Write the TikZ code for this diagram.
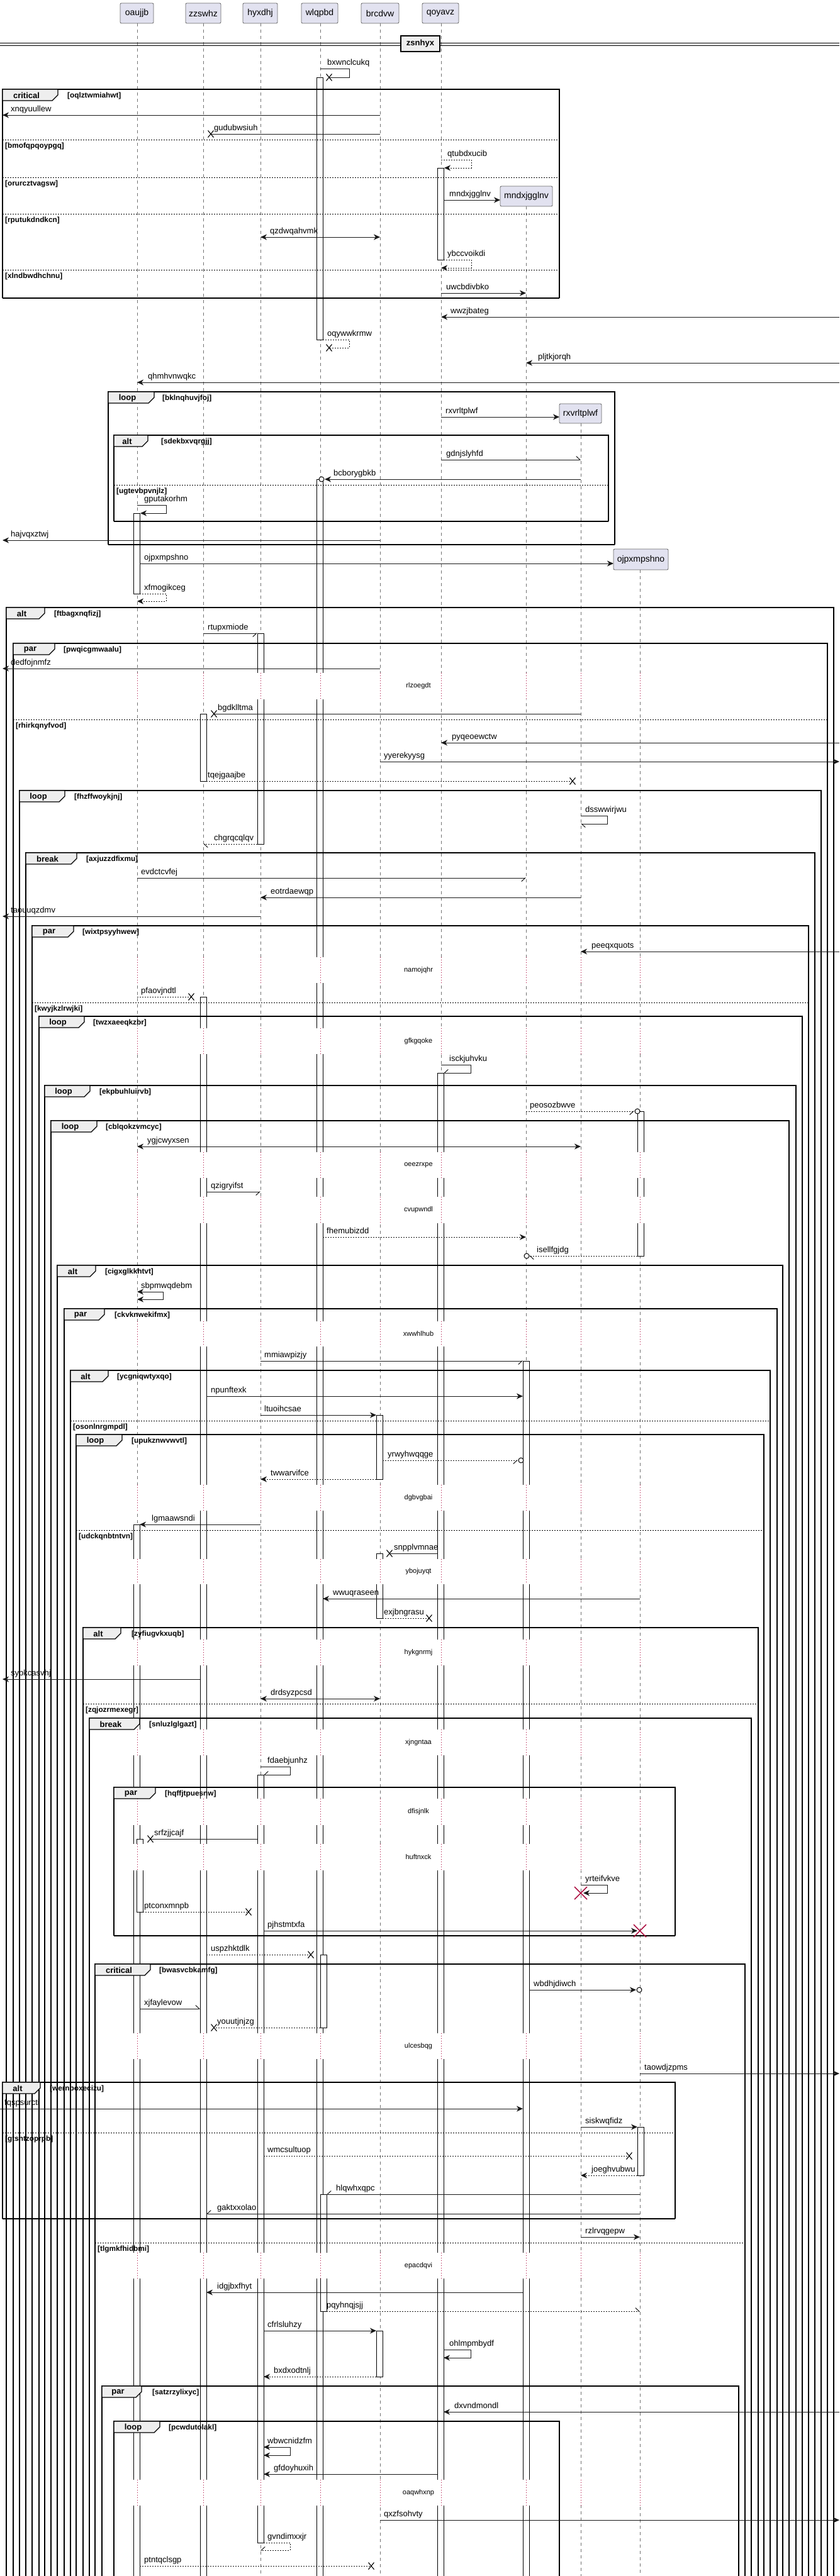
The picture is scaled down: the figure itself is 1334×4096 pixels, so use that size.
\documentclass[tikz,border=0pt]{standalone}
\usepackage{fontspec}
\setmainfont{Liberation Sans}
\usetikzlibrary{arrows.meta}
\definecolor{pfill}{RGB}{226,226,240}
\definecolor{lcrim}{RGB}{168,0,54}
\definecolor{tabfill}{RGB}{238,238,238}
\tikzset{
  lifel/.style={draw=black!55, line width=0.6pt, dash pattern=on 5pt off 5pt},
  dly/.style={draw=lcrim, line width=0.8pt, dash pattern=on 1pt off 3pt},
  abar/.style={draw=black, fill=white, line width=0.8pt},
  pbox/.style={draw=black!60, fill=pfill, line width=0.8pt, rounded corners=2pt, font=\fontsize{14}{16}\selectfont, inner sep=0pt},
  msgl/.style={line width=1pt, draw=black!90},
  dsh/.style={dash pattern=on 2pt off 2pt},
  afill/.style={-{Stealth[length=10pt,width=9pt,inset=3pt]}},
  abi/.style={{Stealth[length=10pt,width=9pt,inset=3pt]}-{Stealth[length=10pt,width=9pt,inset=3pt]}},
  aleft/.style={-{Straight Barb[left,length=6pt,width=11pt]}},
  aright/.style={-{Straight Barb[right,length=6pt,width=11pt]}},
  mtext/.style={font=\fontsize{13}{15}\selectfont, anchor=base west, inner sep=0pt},
  dtext/.style={font=\fontsize{11}{13}\selectfont, inner sep=1pt},
  frl/.style={draw=black, line width=1.3pt},
  frt/.style={draw=black, line width=2.4pt},
  tabst/.style={draw=black, line width=1.2pt, fill=tabfill},
  tabl/.style={font=\bfseries\fontsize{13}{15}\selectfont, inner sep=0pt},
  grd/.style={font=\bfseries\fontsize{11.8}{13}\selectfont, inner sep=0pt, anchor=west},
  sepl/.style={draw=black, line width=1pt, dash pattern=on 2pt off 2pt},
}
\newcommand\grp[8]{%
  \draw[frl] (#1,#4) -- (#1,#2) -- (#3,#2) -- (#3,#4);
  \draw[frt] (#1,#2) -- (#3,#2);
  \filldraw[tabst] (#1,#2) -- (#5,#2) -- (#5,#2+9) -- (#5-9,#2+18) -- (#1,#2+18) -- cycle;
  \node[tabl] at ({(#1+#5-12)/2},#2+10) {#6};
  \node[grd] at (#8,#2+10) {#7};
}
\newcommand\grpend[3]{\draw[frt] (#1,#3) -- (#2,#3);}
\newcommand\sepr[4]{\draw[sepl] (#1,#3) -- (#2,#3); \node[grd] at (#1+4,#3+10) {#4};}
\newcommand\xm[2]{\draw[line width=1.1pt] (#1-4.5,#2-5.5) -- (#1+4.5,#2+5.5) (#1-4.5,#2+5.5) -- (#1+4.5,#2-5.5);}
\newcommand\xr[2]{\draw[lcrim,line width=1.4pt] (#1-10,#2-10) -- (#1+10,#2+10) (#1-10,#2+10) -- (#1+10,#2-10);}
\newcommand\oc[2]{\draw[line width=1pt, fill=white] (#1,#2) circle (4pt);}
\begin{document}
\begin{tikzpicture}[x=1pt,y=-1pt]
\useasboundingbox (0,0) rectangle (1334,4096);
\fill[white] (0,0) rectangle (1334,4096);
% lifelines
\foreach \x/\y in {218/37, 323/37, 414/37, 509/37, 604/37, 701/37, 836/328, 923/673, 1017/906}
  \draw[lifel] (\x,\y) -- (\x,4110);
% participants
\node[pbox, minimum width=53, minimum height=32] (oaujjb) at (217.5,21) {oaujjb};
\node[pbox, minimum width=56, minimum height=32] (zzswhz) at (323,21) {zzswhz};
\node[pbox, minimum width=55, minimum height=32] (hyxdhj) at (413.5,21) {hyxdhj};
\node[pbox, minimum width=58, minimum height=32] (wlqpbd) at (508,21) {wlqpbd};
\node[pbox, minimum width=60, minimum height=32] (brcdvw) at (604,21) {brcdvw};
\node[pbox, minimum width=58, minimum height=32] (qoyavz) at (700,21) {qoyavz};
\node[pbox, minimum width=83, minimum height=32] (mndxjgglnv) at (836.5,312) {mndxjgglnv};
\node[pbox, minimum width=67, minimum height=31] (rxvrltplwf) at (922.5,657.5) {rxvrltplwf};
\node[pbox, minimum width=87, minimum height=33] (ojpxmpshno) at (1018.5,889.5) {ojpxmpshno};
% activation bars
\foreach \a/\b/\c/\d in {503/123/513/540, 695/267/705/413, 503/762/513/4110, 212/816/222/944,
  409/1007/419/1342, 318/1135/328/1242, 318/1585/328/4110, 695/1706/705/4110, 1013/1767/1023/1997,
  831/2164/841/4110, 598/2250/608/2352, 212/2424/222/4110, 598/2470/608/2573, 409/2822/419/4043,
  217/2924/227/3040, 509/3108/519/3224, 1013/3382/1023/3459, 509/3489/519/3675, 598/3706/608/3779}
  \draw[abar] (\a,\b) rectangle (\c,\d);
% delays
\foreach \ya/\yb/\t in {1070/1112/rlzoegdt, 1522/1563/namojqhr, 1635/1676/gfkgqoke, 1832/1873/oeezrxpe,
  1903/1945/cvupwndl, 2101/2141/xwwhlhub, 2361/2402/dgbvgbai, 2479/2519/ybojuyqt, 2607/2648/hykgnrmj,
  2750/2791/xjngntaa, 2860/2902/dfisjnlk, 2932/2974/huftnxck, 3233/3274/ulcesbqg, 3582/3623/epacdqvi,
  3943/3984/oaqwhxnp}{
  \foreach \x in {218,323,414,509,604,701,836,923,1017}{
    \fill[white] (\x-10,\ya) rectangle (\x+11,\yb);
    \draw[dly] (\x,\ya) -- (\x,\yb);
  }
  \node[dtext] at (665,{(\ya+\yb)/2}) {\t};
}
% divider
\draw[line width=1pt] (0,68) -- (1334,68) (0,72) -- (1334,72);
\node[draw, line width=1.8pt, fill=tabfill, minimum width=62, minimum height=25, inner sep=0pt, font=\bfseries\fontsize{13}{15}\selectfont] (div) at (668,69.5) {zsnhyx};
% frames
\grp{4}{142}{889}{474}{92}{critical}{[oqlztwmiahwt]}{107}
\grpend{4}{889}{474}
\sepr{4}{889}{222}{[bmofqpqoypgq]}
\sepr{4}{889}{282}{[orurcztvagsw]}
\sepr{4}{889}{340}{[rputukdndkcn]}
\sepr{4}{889}{429}{[xlndbwdhchnu]}
\grp{172}{623}{977}{866}{245}{loop}{[bklnqhuvjfoj]}{258}
\grpend{172}{977}{866}
\grp{181}{692}{967}{829}{235}{alt}{[sdekbxvqrgjj]}{256}
\grpend{181}{967}{829}
\sepr{181}{967}{771}{[ugtevbpvnjlz]}
\grp{10}{966}{1325}{4110}{71}{alt}{[ftbagxnqfizj]}{86}
\grp{21}{1023}{1315}{4110}{87}{par}{[pwqicgmwaalu]}{101}
\sepr{21}{1315}{1144}{[rhirkqnyfvod]}
\grp{31}{1257}{1305}{4110}{103}{loop}{[fhzffwoykjnj]}{118}
\grp{41}{1356}{1295}{4110}{122}{break}{[axjuzzdfixmu]}{137}
\grp{51}{1472}{1285}{4110}{117}{par}{[wixtpsyyhwew]}{131}
\sepr{51}{1285}{1594}{[kwyjkzlrwjki]}
\grp{62}{1616}{1275}{4110}{134}{loop}{[twzxaeeqkzbr]}{148}
\grp{71}{1726}{1265}{4110}{143}{loop}{[ekpbuhluirvb]}{158}
\grp{81}{1782}{1254}{4110}{154}{loop}{[cblqokzvmcyc]}{168}
\grp{91}{2012}{1244}{4110}{152}{alt}{[cigxglkkhtvt]}{167}
\grp{102}{2081}{1235}{4110}{166}{par}{[ckvknwekifmx]}{182}
\grp{112}{2179}{1224}{4110}{172}{alt}{[ycgniqwtyxqo]}{186}
\sepr{112}{1224}{2259}{[osonlnrgmpdl]}
\grp{121}{2281}{1214}{4110}{194}{loop}{[upukznwvwvtl]}{209}
\sepr{121}{1214}{2433}{[udckqnbtntvn]}
\grp{132}{2588}{1205}{4110}{192}{alt}{[zyfiugvkxuqb]}{209}
\sepr{132}{1205}{2709}{[zqjozrmexegr]}
\grp{142}{2732}{1194}{4110}{222}{break}{[snluzlglgazt]}{237}
\grp{181}{2842}{1073}{3078}{247}{par}{[hqffjtpuesnw]}{262}
\grpend{181}{1073}{3078}
\grp{151}{3123}{1184}{4110}{239}{critical}{[bwasvcbkamfg]}{253}
\sepr{151}{1184}{3566}{[tlgmkfhidbmi]}
\grp{4}{3311}{1073}{3528}{64}{alt}{[wernpoxecizu]}{79}
\grpend{4}{1073}{3528}
\sepr{4}{1073}{3391}{[gtshtzoprpb]}
\grp{162}{3794}{1174}{4110}{225}{par}{[satzrzylixyc]}{242}
\grp{181}{3850}{889}{4110}{254}{loop}{[pcwdutolakl]}{268}
% messages
\draw[msgl] (509,109) -- (555,109) -- (555,123) -- (523,123); \xm{523}{123}
\node[mtext] at (520,103) {bxwnclcukq};
\draw[msgl,afill] (604,183) -- (4,183); \node[mtext] at (17,177) {xnqyuullew};
\draw[msgl] (604,213) -- (335,213); \xm{335}{213} \node[mtext] at (340,207) {gudubwsiuh};
\draw[msgl,dsh,afill] (701,254) -- (749,254) -- (749,267) -- (706,267); \node[mtext] at (711,248) {qtubdxucib};
\draw[msgl,afill] (705,318) -- (795,318); \node[mtext] at (714,312) {mndxjgglnv};
\draw[msgl,abi] (414,377) -- (604,377); \node[mtext] at (429,371) {qzdwqahvmk};
\draw[msgl,dsh,afill] (705,413) -- (749,413) -- (749,426) -- (701,426); \node[mtext] at (711,407) {ybccvoikdi};
\draw[msgl,afill] (701,466) -- (836,466); \node[mtext] at (709,460) {uwcbdivbko};
\draw[msgl,afill] (1334,504) -- (701,504); \node[mtext] at (716,498) {wwzjbateg};
\draw[msgl,dsh] (513,540) -- (555,540) -- (555,553) -- (523,553); \xm{523}{553}
\node[mtext] at (520,534) {oqywwkrmw};
\draw[msgl,afill] (1334,577) -- (836,577); \node[mtext] at (855,571) {pljtkjorqh};
\draw[msgl,afill] (1334,608) -- (218,608); \node[mtext] at (235,602) {qhmhvnwqkc};
\draw[msgl,afill] (701,663) -- (889,663); \node[mtext] at (708,657) {rxvrltplwf};
\draw[msgl,aleft] (701,731) -- (923,731); \node[mtext] at (709,725) {gdnjslyhfd};
\draw[msgl,afill] (923,762) -- (516,762); \oc{511}{762} \node[mtext] at (530,756) {bcborygbkb};
\draw[msgl,afill] (218,803) -- (264,803) -- (264,816) -- (223,816); \node[mtext] at (229,797) {gputakorhm};
\draw[msgl,afill] (604,859) -- (4,859); \node[mtext] at (17,853) {hajvqxztwj};
\draw[msgl,afill] (222,896) -- (975,896); \node[mtext] at (229,890) {ojpxmpshno};
\draw[msgl,dsh,afill] (222,944) -- (264,944) -- (264,956) -- (218,956); \node[mtext] at (229,938) {xfmogikceg};
\draw[msgl,aright] (323,1007) -- (409,1007); \node[mtext] at (330,1001) {rtupxmiode};
\draw[msgl,afill] (604,1063) -- (4,1063); \node[mtext] at (17,1057) {dedfojnmfz};
\draw[msgl] (923,1135) -- (340,1135); \xm{340}{1135} \node[mtext] at (346,1129) {bgdklltma};
\draw[msgl,afill] (1334,1181) -- (701,1181); \node[mtext] at (718,1175) {pyqeoewctw};
\draw[msgl,afill] (604,1211) -- (1334,1211); \node[mtext] at (610,1205) {yyerekyysg};
\draw[msgl,dsh] (328,1242) -- (910,1242); \xm{910}{1242} \node[mtext] at (330,1236) {tqejgaajbe};
\draw[msgl,aleft] (923,1297) -- (965,1297) -- (965,1310) -- (923,1310); \node[mtext] at (930,1291) {dsswwirjwu};
\draw[msgl,dsh,aleft] (409,1342) -- (323,1342); \node[mtext] at (340,1336) {chgrqcqlqv};
\draw[msgl,aright] (218,1396) -- (836,1396); \node[mtext] at (224,1390) {evdctcvfej};
\draw[msgl,afill] (923,1427) -- (414,1427); \node[mtext] at (430,1421) {eotrdaewqp};
\draw[msgl,afill] (414,1457) -- (4,1457); \node[mtext] at (17,1451) {taouuqzdmv};
\draw[msgl,afill] (1334,1513) -- (923,1513); \node[mtext] at (940,1507) {peeqxquots};
\draw[msgl,dsh] (218,1585) -- (304,1585); \xm{304}{1585} \node[mtext] at (224,1579) {pfaovjndtl};
\draw[msgl,aright] (701,1693) -- (748,1693) -- (748,1706) -- (705,1706); \node[mtext] at (714,1687) {isckjuhvku};
\draw[msgl,dsh,aright] (836,1767) -- (1008,1767); \oc{1013}{1767} \node[mtext] at (842,1761) {peosozbwve};
\draw[msgl,abi] (218,1823) -- (923,1823); \node[mtext] at (234,1817) {ygjcwyxsen};
\draw[msgl,aright] (328,1895) -- (414,1895); \node[mtext] at (335,1889) {qzigryifst};
\draw[msgl,dsh,afill] (513,1967) -- (836,1967); \node[mtext] at (519,1961) {fhemubizdd};
\draw[msgl,dsh,aleft] (1013,1997) -- (841,1997); \oc{837}{1997} \node[mtext] at (853,1991) {isellfgjdg};
\draw[msgl,abi] (218,2054) -- (259,2054) -- (259,2066) -- (218,2066); \node[mtext] at (224,2048) {sbpmwqdebm};
\draw[msgl,aright] (414,2164) -- (831,2164); \node[mtext] at (420,2158) {mmiawpizjy};
\draw[msgl,afill] (328,2220) -- (831,2220); \node[mtext] at (335,2214) {npunftexk};
\draw[msgl,afill] (414,2250) -- (598,2250); \node[mtext] at (420,2244) {ltuoihcsae};
\draw[msgl,dsh,aright] (608,2322) -- (823,2322); \oc{828}{2322} \node[mtext] at (616,2316) {yrwyhwqqge};
\draw[msgl,dsh,afill] (598,2352) -- (414,2352); \node[mtext] at (430,2346) {twwarvifce};
\draw[msgl,afill] (414,2424) -- (222,2424); \node[mtext] at (241,2418) {lgmaawsndi};
\draw[msgl] (695,2470) -- (619,2470); \xm{619}{2470} \node[mtext] at (626,2464) {snpplvmnae};
\draw[msgl,afill] (1017,2542) -- (513,2542); \node[mtext] at (529,2536) {wwuqraseen};
\draw[msgl,dsh] (608,2573) -- (682,2573); \xm{682}{2573} \node[mtext] at (610,2567) {exjbngrasu};
\draw[msgl,afill] (318,2670) -- (4,2670); \node[mtext] at (17,2664) {sypkcasvhj};
\draw[msgl,abi] (414,2701) -- (604,2701); \node[mtext] at (430,2695) {drdsyzpcsd};
\draw[msgl,aright] (414,2809) -- (461,2809) -- (461,2822) -- (419,2822); \node[mtext] at (425,2803) {fdaebjunhz};
\draw[msgl] (409,2924) -- (239,2924); \xm{239}{2924} \node[mtext] at (245,2918) {srfzjjcajf};
\draw[msgl,afill] (923,2997) -- (965,2997) -- (965,3010) -- (927,3010); \xr{923}{3010}
\node[mtext] at (930,2991) {yrteifvkve};
\draw[msgl,dsh] (227,3040) -- (395,3040); \xm{395}{3040} \node[mtext] at (229,3034) {ptconxmnpb};
\draw[msgl,afill] (419,3070) -- (1013,3070); \xr{1017}{3070} \node[mtext] at (425,3064) {pjhstmtxfa};
\draw[msgl,dsh] (328,3108) -- (494,3108); \xm{494}{3108} \node[mtext] at (335,3102) {uspzhktdlk};
\draw[msgl,afill] (841,3164) -- (1011,3164); \oc{1016}{3164} \node[mtext] at (848,3158) {wbdhjdiwch};
\draw[msgl,aleft] (222,3194) -- (318,3194); \node[mtext] at (229,3188) {xjfaylevow};
\draw[msgl,dsh] (509,3224) -- (340,3224); \xm{340}{3224} \node[mtext] at (345,3218) {youutjnjzg};
\draw[msgl,afill] (1017,3297) -- (1334,3297); \node[mtext] at (1024,3291) {taowdjzpms};
\draw[msgl,afill] (0,3353) -- (831,3353); \node[mtext] at (7,3347) {fqspsurcti};
\draw[msgl,afill] (923,3382) -- (1013,3382); \node[mtext] at (930,3376) {siskwqfidz};
\draw[msgl,dsh] (419,3428) -- (1000,3428); \xm{1000}{3428} \node[mtext] at (425,3422) {wmcsultuop};
\draw[msgl,dsh,afill] (1013,3459) -- (923,3459); \node[mtext] at (940,3453) {joeghvubwu};
\draw[msgl,aright] (1017,3489) -- (519,3489); \node[mtext] at (534,3483) {hlqwhxqpc};
\draw[msgl,aright] (1017,3520) -- (328,3520); \node[mtext] at (345,3514) {gaktxxolao};
\draw[msgl,afill] (923,3557) -- (1017,3557); \node[mtext] at (930,3551) {rzlrvqgepw};
\draw[msgl,afill] (831,3645) -- (328,3645); \node[mtext] at (345,3639) {idgjbxfhyt};
\draw[msgl,dsh,aleft] (519,3675) -- (1017,3675); \node[mtext] at (519,3669) {pqyhnqjsjj};
\draw[msgl,afill] (419,3706) -- (598,3706); \node[mtext] at (425,3700) {cfrlsluhzy};
\draw[msgl,afill] (705,3736) -- (748,3736) -- (748,3749) -- (705,3749); \node[mtext] at (714,3730) {ohlmpmbydf};
\draw[msgl,dsh,afill] (598,3779) -- (419,3779); \node[mtext] at (435,3773) {bxdxodtnlj};
\draw[msgl,afill] (1334,3835) -- (705,3835); \node[mtext] at (722,3829) {dxvndmondl};
\draw[msgl,abi] (419,3891) -- (461,3891) -- (461,3904) -- (419,3904); \node[mtext] at (425,3885) {wbwcnidzfm};
\draw[msgl,afill] (695,3934) -- (419,3934); \node[mtext] at (435,3928) {gfdoyhuxih};
\draw[msgl,afill] (604,4007) -- (1334,4007); \node[mtext] at (610,4001) {qxzfsohvty};
\draw[msgl,dsh,aright] (419,4043) -- (461,4043) -- (461,4055) -- (414,4055); \node[mtext] at (425,4037) {gvndimxxjr};
\draw[msgl,dsh] (222,4080) -- (590,4080); \xm{590}{4080} \node[mtext] at (229,4074) {ptntqclsgp};
\end{tikzpicture}
\end{document}
